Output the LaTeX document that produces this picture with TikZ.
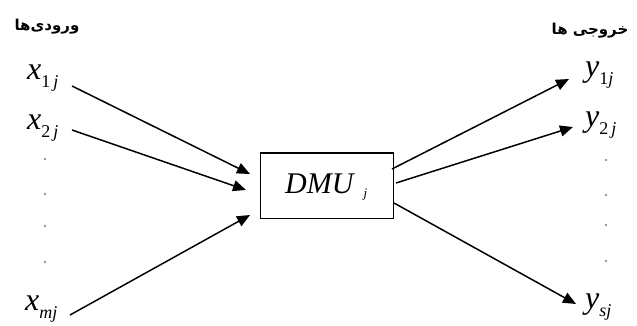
\documentclass[tikz,border=0pt]{standalone}
\usepackage{fontspec}
\setmainfont{Liberation Serif}
\newfontfamily\arabicfont[Script=Arabic]{DejaVu Sans}
\TeXXeTstate=1
\usetikzlibrary{arrows.meta}
\newcommand\vsb[2]{#1\raisebox{-8pt}{\fontsize{18}{18}\selectfont #2}}
\begin{document}
\begin{tikzpicture}[x=1pt,y=-1pt,
  lbl/.style={font=\fontsize{32}{32}\selectfont\itshape, inner sep=0pt, anchor=base west},
  arr/.style={line width=1.5pt, -{Triangle[length=13pt,width=11pt]}},
  dotn/.style={circle, fill=black!55, inner sep=0pt, minimum size=2.2pt},
  hdr/.style={font=\arabicfont\bfseries\fontsize{15}{15}\selectfont, inner sep=0pt},
  box/.style={draw, line width=1pt, minimum width=133pt, minimum height=65pt, inner sep=0pt}]
\useasboundingbox[fill=white] (0,0) rectangle (637,326);
% headers
\node[hdr] (hin) at (47,27) {\beginR ورودی‌ها\endR};
\node[hdr] (hout) at (590,31) {\beginR خروجی ها\endR};
% inputs
\node[lbl] (x1) at (27,80) {\vsb{x}{{\upshape 1}\,j}};
\node[lbl] (x2) at (27,130) {\vsb{x}{{\upshape 2}\,j}};
\node[lbl] (xm) at (25,310) {\vsb{x}{mj}};
\foreach \i/\yy in {1/159,2/194,3/226,4/262} \node[dotn] (dl\i) at (45,\yy) {};
% outputs
\node[lbl] (y1) at (585,77) {\vsb{y}{{\upshape 1}j}};
\node[lbl] (y2) at (585,127) {\vsb{y}{{\upshape 2}\,j}};
\node[lbl] (ys) at (585,308) {\vsb{y}{sj}};
\foreach \i/\yy in {1/160,2/195,3/225,4/261} \node[dotn] (dr\i) at (606,\yy) {};
% DMU box
\node[box] (dmu) at (326.5,185.5) {};
\node[font=\fontsize{30}{30}\selectfont\itshape, inner sep=0pt, anchor=base west] (dmut) at (285,193) {DMU\hspace{10pt}\raisebox{-4pt}{\fontsize{13}{13}\selectfont j}};
% arrow ends
\coordinate (s1) at (72,86);
\coordinate (s2) at (72,130);
\coordinate (s3) at (70,315);
\coordinate (t1) at (250,174);
\coordinate (t2) at (246,190);
\coordinate (t3) at (250,215);
\coordinate (o1) at (392,169);
\coordinate (o2) at (396,183);
\coordinate (o3) at (394,203);
\coordinate (e1) at (569,79);
\coordinate (e2) at (573,127);
\coordinate (e3) at (576,304);
\draw[arr] (s1) -- (t1);
\draw[arr] (s2) -- (t2);
\draw[arr] (s3) -- (t3);
\draw[arr] (o1) -- (e1);
\draw[arr] (o2) -- (e2);
\draw[arr] (o3) -- (e3);
\end{tikzpicture}
\end{document}
